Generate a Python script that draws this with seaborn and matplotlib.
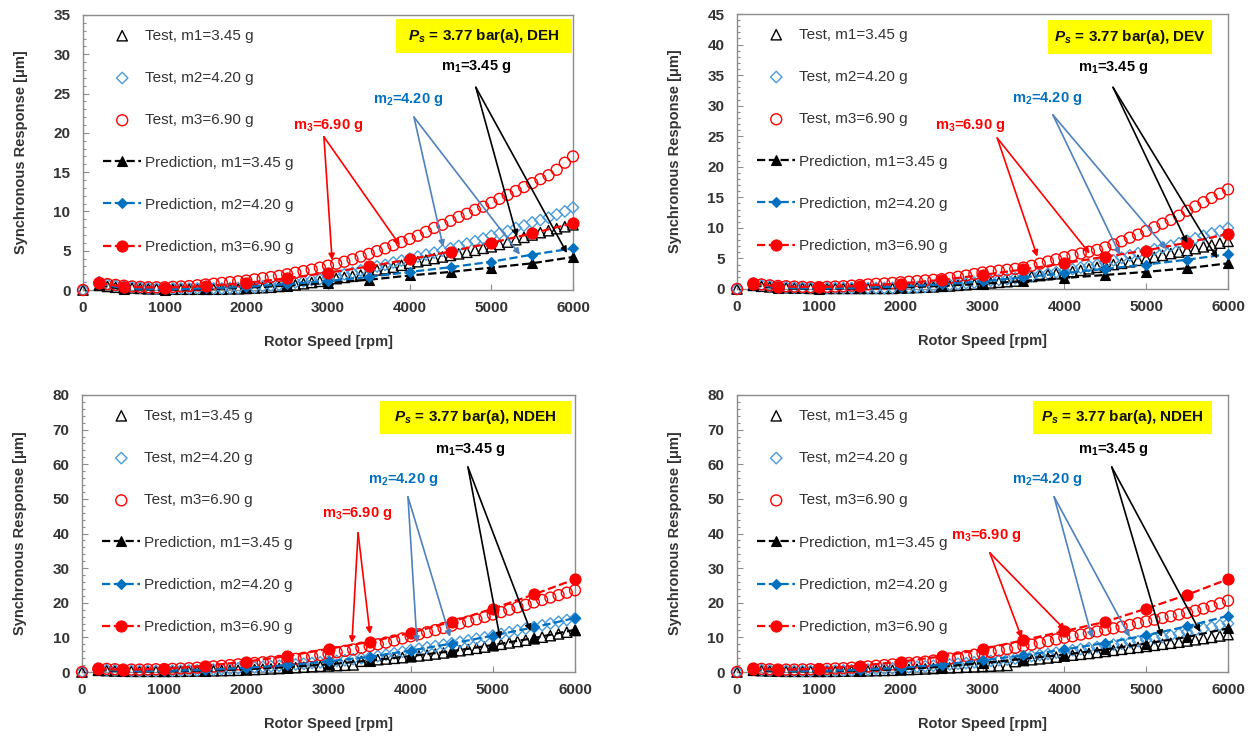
import numpy as np
import pandas as pd
import matplotlib
matplotlib.use("Agg")
import matplotlib.pyplot as plt
import seaborn as sns
from matplotlib.ticker import MultipleLocator, AutoMinorLocator
from matplotlib.patches import Rectangle

sns.set_theme(style="white")
plt.rcParams['font.family'] = ['Liberation Sans', 'DejaVu Sans']
plt.rcParams['mathtext.fontset'] = 'custom'
plt.rcParams['mathtext.rm'] = 'Liberation Sans'
plt.rcParams['mathtext.it'] = 'Liberation Sans:italic'
plt.rcParams['mathtext.bf'] = 'Liberation Sans:bold'
plt.rcParams['mathtext.bfit'] = 'Liberation Sans:italic:bold'

# ---------------- data ----------------
test_speed = [0] + list(range(200, 6001, 100))          # rpm
pred_speed = [200, 500, 1000, 1500, 2000, 2500, 3000, 3500, 4000, 4500, 5000, 5500, 6000]

test_labels = ["Test, m1=3.45 g", "Test, m2=4.20 g", "Test, m3=6.90 g"]
pred_labels = ["Prediction, m1=3.45 g", "Prediction, m2=4.20 g", "Prediction, m3=6.90 g"]
panel_titles = ["DEH", "DEV", "NDEH", "NDEH"]
y_max = [35, 45, 80, 80]
y_step = [5, 5, 10, 10]

# DEH (top left)
deh_m1 = [0.0,
          0.6, 0.45, 0.35, 0.3, 0.25, 0.2, 0.15, 0.15, 0.1,
          0.1, 0.1, 0.1, 0.1, 0.1, 0.1, 0.1, 0.15, 0.15, 0.2,
          0.25, 0.3, 0.35, 0.45, 0.55, 0.65, 0.8, 0.95, 1.1, 1.3,
          1.45, 1.6, 1.75, 1.9, 2.4, 2.55, 2.7, 2.9, 3.15, 3.4,
          3.6, 3.8, 4.0, 4.2, 4.4, 4.6, 4.8, 5.05, 5.3, 5.5,
          5.8, 6.1, 6.4, 6.7, 7.0, 7.3, 7.55, 7.8, 8.05, 8.3]
deh_m2 = [0.0,
          1.0, 0.7, 0.55, 0.45, 0.35, 0.3, 0.25, 0.2, 0.2,
          0.2, 0.2, 0.2, 0.2, 0.2, 0.2, 0.2, 0.25, 0.25, 0.3,
          0.35, 0.45, 0.55, 0.65, 0.8, 0.95, 1.1, 1.25, 1.4, 1.6,
          1.8, 2.0, 2.2, 2.5, 2.8, 3.0, 3.2, 3.5, 3.75, 4.0,
          4.25, 4.5, 4.75, 5.0, 5.3, 5.6, 5.9, 6.2, 6.55, 6.9,
          7.2, 7.5, 7.9, 8.2, 8.6, 8.9, 9.2, 9.6, 10.0, 10.5]
deh_m3 = [0.0,
          0.9, 0.75, 0.65, 0.55, 0.45, 0.4, 0.35, 0.35, 0.35,
          0.4, 0.45, 0.5, 0.6, 0.7, 0.8, 0.9, 1.0, 1.1, 1.2,
          1.35, 1.5, 1.65, 1.8, 2.0, 2.2, 2.4, 2.6, 2.85, 3.1,
          3.35, 3.6, 3.9, 4.25, 4.6, 4.95, 5.3, 5.7, 6.1, 6.5,
          6.9, 7.4, 7.9, 8.3, 8.8, 9.3, 9.7, 10.2, 10.6, 11.1,
          11.6, 12.1, 12.6, 13.1, 13.6, 14.1, 14.6, 15.3, 16.2, 17.0]
deh_p1 = [0.6, 0.1, 0.05, 0.1, 0.3, 0.55, 0.9, 1.3, 1.85, 2.3, 2.85, 3.4, 4.2]
deh_p2 = [0.8, 0.2, 0.1, 0.2, 0.4, 0.75, 1.15, 1.65, 2.3, 2.9, 3.6, 4.5, 5.3]
deh_p3 = [0.9, 0.4, 0.3, 0.5, 0.9, 1.5, 2.2, 3.0, 3.9, 4.9, 6.0, 7.2, 8.5]

# DEV (top right)
dev_m1 = [0.0,
          0.6, 0.45, 0.35, 0.3, 0.2, 0.15, 0.15, 0.1, 0.1,
          0.1, 0.1, 0.1, 0.1, 0.1, 0.1, 0.1, 0.1, 0.1, 0.15,
          0.2, 0.25, 0.3, 0.35, 0.45, 0.5, 0.6, 0.7, 0.8, 0.9,
          1.0, 1.1, 1.2, 1.3, 1.9, 2.05, 2.2, 2.35, 2.5, 2.65,
          2.85, 3.05, 3.3, 3.55, 3.8, 4.0, 4.2, 4.45, 4.7, 4.95,
          5.2, 5.5, 5.8, 6.05, 6.3, 6.6, 6.9, 7.2, 7.5, 7.8]
dev_m2 = [0.0,
          0.9, 0.65, 0.5, 0.4, 0.3, 0.25, 0.2, 0.2, 0.15,
          0.15, 0.15, 0.15, 0.15, 0.15, 0.15, 0.15, 0.15, 0.2, 0.2,
          0.25, 0.3, 0.35, 0.45, 0.6, 0.7, 0.8, 0.95, 1.05, 1.2,
          1.35, 1.5, 1.6, 1.75, 1.9, 2.1, 2.3, 2.5, 2.75, 3.0,
          3.25, 3.5, 3.75, 4.0, 4.3, 4.7, 5.1, 5.5, 5.85, 6.2,
          6.5, 6.8, 7.1, 7.5, 7.9, 8.3, 8.7, 9.1, 9.5, 10.0]
dev_m3 = [0.0,
          0.9, 0.75, 0.6, 0.5, 0.45, 0.4, 0.35, 0.3, 0.3,
          0.35, 0.4, 0.45, 0.55, 0.65, 0.75, 0.85, 0.9, 1.0, 1.1,
          1.2, 1.3, 1.4, 1.5, 1.6, 1.8, 2.0, 2.2, 2.45, 2.7,
          2.85, 3.0, 3.15, 3.3, 3.5, 3.8, 4.15, 4.5, 4.85, 5.2,
          5.5, 5.8, 6.1, 6.4, 6.8, 7.3, 7.8, 8.4, 8.9, 9.5,
          10.1, 10.7, 11.3, 12.0, 12.8, 13.5, 14.2, 14.9, 15.6, 16.3]
dev_p1 = [0.6, 0.1, 0.05, 0.1, 0.25, 0.5, 0.85, 1.3, 1.8, 2.3, 2.8, 3.4, 4.2]
dev_p2 = [0.8, 0.2, 0.1, 0.2, 0.4, 0.75, 1.25, 1.9, 2.6, 3.3, 4.0, 4.8, 5.7]
dev_p3 = [0.9, 0.4, 0.3, 0.5, 0.9, 1.5, 2.3, 3.2, 4.2, 5.3, 6.3, 7.6, 9.0]

# NDEH (bottom left)
ndeh_a_m1 = [0.0,
             0.5, 0.4, 0.3, 0.25, 0.2, 0.2, 0.2, 0.2, 0.2,
             0.2, 0.2, 0.25, 0.3, 0.3, 0.35, 0.4, 0.45, 0.5, 0.6,
             0.7, 0.8, 0.9, 1.0, 1.1, 1.25, 1.4, 1.55, 1.65, 1.75,
             1.85, 1.95, 2.05, 3.1, 3.35, 3.55, 3.75, 3.95, 4.15, 4.4,
             4.65, 4.9, 5.2, 5.5, 5.8, 6.15, 6.5, 6.85, 7.2, 7.6,
             8.0, 8.4, 8.8, 9.2, 9.6, 10.05, 10.5, 11.0, 11.5, 12.0]
ndeh_a_m2 = [0.0,
             0.8, 0.6, 0.5, 0.4, 0.35, 0.3, 0.3, 0.3, 0.3,
             0.35, 0.4, 0.45, 0.5, 0.6, 0.7, 0.8, 0.9, 1.05, 1.2,
             1.35, 1.5, 1.65, 1.8, 2.0, 2.2, 2.4, 2.6, 2.8, 3.0,
             3.2, 3.4, 3.7, 3.95, 4.2, 4.6, 5.0, 5.4, 5.85, 6.3,
             6.7, 7.1, 7.5, 7.9, 8.3, 8.7, 9.1, 9.6, 10.0, 10.5,
             11.0, 11.5, 12.0, 12.5, 13.0, 13.5, 14.0, 14.5, 15.0, 15.5]
ndeh_a_m3 = [0.0,
             1.0, 0.9, 0.8, 0.7, 0.7, 0.7, 0.75, 0.8, 0.85,
             0.9, 1.0, 1.1, 1.25, 1.4, 1.6, 1.8, 2.0, 2.2, 2.4,
             2.6, 2.8, 3.0, 3.2, 3.5, 3.8, 4.1, 4.5, 4.9, 5.3,
             5.7, 6.1, 6.5, 7.0, 7.5, 8.0, 8.5, 9.1, 9.7, 10.3,
             10.9, 11.5, 12.1, 12.7, 13.4, 14.0, 14.6, 15.2, 15.9, 16.6,
             17.3, 18.0, 18.7, 19.4, 20.1, 20.8, 21.5, 22.2, 22.9, 23.6]
ndeh_a_p1 = [0.6, 0.2, 0.2, 0.4, 0.8, 1.4, 2.2, 3.3, 4.6, 6.0, 7.8, 9.8, 12.2]
ndeh_a_p2 = [0.8, 0.3, 0.3, 0.6, 1.2, 2.0, 3.1, 4.4, 6.2, 8.2, 10.5, 12.9, 15.6]
ndeh_a_p3 = [1.0, 0.6, 0.9, 1.8, 3.0, 4.6, 6.7, 8.7, 11.3, 14.5, 18.3, 22.4, 26.8]

# NDEH (bottom right)
ndeh_b_m1 = [0.0,
             0.5, 0.4, 0.3, 0.25, 0.2, 0.2, 0.2, 0.2, 0.2,
             0.2, 0.2, 0.25, 0.3, 0.3, 0.35, 0.4, 0.45, 0.5, 0.6,
             0.7, 0.8, 0.9, 1.0, 1.1, 1.2, 1.3, 1.4, 1.5, 1.6,
             1.7, 1.8, 1.9, 3.0, 3.3, 3.55, 3.8, 4.05, 4.3, 4.6,
             4.85, 5.1, 5.35, 5.65, 5.95, 6.25, 6.55, 6.85, 7.1, 7.4,
             7.7, 8.0, 8.3, 8.6, 8.95, 9.3, 9.65, 10.0, 10.4, 10.8]
ndeh_b_m2 = [0.0,
             0.8, 0.6, 0.5, 0.4, 0.35, 0.3, 0.3, 0.3, 0.3,
             0.35, 0.4, 0.45, 0.5, 0.6, 0.7, 0.8, 0.9, 1.05, 1.2,
             1.35, 1.5, 1.65, 1.8, 2.0, 2.2, 2.4, 2.6, 2.8, 3.0,
             3.2, 3.4, 3.6, 3.9, 4.3, 4.6, 4.9, 5.2, 5.6, 6.0,
             6.3, 6.6, 6.9, 7.2, 7.6, 7.9, 8.2, 8.6, 8.9, 9.3,
             9.7, 10.1, 10.5, 11.0, 11.5, 12.0, 12.5, 13.0, 13.5, 14.0]
ndeh_b_m3 = [0.0,
             1.0, 0.9, 0.8, 0.7, 0.7, 0.7, 0.75, 0.8, 0.85,
             0.9, 1.0, 1.1, 1.25, 1.4, 1.6, 1.8, 2.0, 2.2, 2.4,
             2.6, 2.8, 3.0, 3.3, 3.6, 3.9, 4.2, 4.6, 5.0, 5.4,
             5.8, 6.2, 6.6, 7.0, 7.5, 7.9, 8.4, 8.9, 9.4, 9.9,
             10.3, 10.8, 11.2, 11.7, 12.2, 12.6, 13.1, 13.6, 14.1, 14.6,
             15.1, 15.6, 16.1, 16.6, 17.1, 17.7, 18.3, 19.0, 19.8, 20.6]
ndeh_b_p1 = [0.6, 0.2, 0.2, 0.4, 0.8, 1.5, 2.6, 3.8, 5.0, 6.5, 8.2, 10.1, 12.6]
ndeh_b_p2 = [0.8, 0.3, 0.3, 0.6, 1.2, 2.1, 3.4, 4.8, 6.5, 8.4, 10.6, 13.2, 16.2]
ndeh_b_p3 = [1.0, 0.6, 0.9, 1.8, 3.0, 4.5, 6.6, 9.2, 11.8, 14.5, 18.3, 22.3, 26.8]

panel_tests = [[deh_m1, deh_m2, deh_m3], [dev_m1, dev_m2, dev_m3],
               [ndeh_a_m1, ndeh_a_m2, ndeh_a_m3], [ndeh_b_m1, ndeh_b_m2, ndeh_b_m3]]
panel_preds = [[deh_p1, deh_p2, deh_p3], [dev_p1, dev_p2, dev_p3],
               [ndeh_a_p1, ndeh_a_p2, ndeh_a_p3], [ndeh_b_p1, ndeh_b_p2, ndeh_b_p3]]

annot_labels = [r"m$_\mathbf{1}$=3.45 g", r"m$_\mathbf{2}$=4.20 g", r"m$_\mathbf{3}$=6.90 g"]

# annotation placement (text, arrow origin, two arrow tips) per panel, in data units
annot_pos = [
    [((4810, 28.4), (4810, 25.8), [(5314, 6.8), (5926, 4.7)]),
     ((3980, 24.3), (4053, 22.0), [(4410, 5.5), (5350, 4.5)]),
     ((3000, 20.9), (2950, 19.5), [(3050, 3.8), (3880, 5.7)])],
    [((4595, 36.3), (4595, 33.0), [(5500, 7.5), (5870, 5.0)]),
     ((3790, 31.1), (3860, 28.5), [(4680, 5.6), (5250, 6.5)]),
     ((2850, 26.7), (3180, 24.7), [(3670, 5.3), (4310, 5.8)])],
    [((4722, 64.4), (4697, 59.2), [(5090, 9.5), (5460, 11.8)]),
     ((3907, 55.5), (3967, 50.6), [(4077, 8.4), (4480, 10.1)]),
     ((3345, 45.7), (3360, 40.2), [(3285, 8.4), (3505, 11.0)])],
    [((4595, 64.4), (4580, 59.2), [(5190, 10.1), (5660, 11.6)]),
     ((3790, 55.5), (3875, 50.6), [(4340, 9.8), (4800, 10.1)]),
     ((3045, 39.3), (3090, 34.4), [(3480, 9.8), (4010, 12.1)])],
]

# ---------------- styling ----------------
test_colors = ["#000000", "#4A9BDB", "#FF0000"]
test_markers = ["^", "D", "o"]
test_sizes = [55, 34, 62]
pred_colors = ["#000000", "#0070C0", "#FF0000"]
pred_markers = ["^", "D", "o"]
pred_msize = [7.5, 5.5, 8.0]
text_colors = ["#000000", "#0070C0", "#FF0000"]
arrow_colors = ["#000000", "#4F81BD", "#FF0000"]

W, H = 1255, 736
axes_px = [(83, 15, 573, 290), (737, 14, 1228, 289), (82, 395, 575, 672), (737, 395, 1228, 672)]
box_px = [(396, 19, 572, 53), (1048, 20, 1212, 54), (380, 401, 571, 434), (1033, 401, 1212, 434)]

fig = plt.figure(figsize=(W / 100, H / 100), dpi=100)
spine_c = "#8C8C8C"
txt_c = "#333333"

for i in range(4):
    l, t, r, b = axes_px[i]
    ax = fig.add_axes([l / W, 1 - b / H, (r - l) / W, (b - t) / H])
    for k in range(3):
        sns.scatterplot(x=test_speed, y=panel_tests[i][k], ax=ax, marker=test_markers[k],
                        s=test_sizes[k], facecolor="none", edgecolor=test_colors[k],
                        linewidth=1.0, label=test_labels[k], clip_on=False, zorder=3 + k * 0.1)
    for k in range(3):
        sns.lineplot(x=pred_speed, y=panel_preds[i][k], ax=ax, color=pred_colors[k],
                     marker=pred_markers[k], markersize=pred_msize[k],
                     markeredgecolor=pred_colors[k], markerfacecolor=pred_colors[k],
                     markeredgewidth=0.8, linestyle="--", linewidth=1.6,
                     label=pred_labels[k], zorder=4 + k * 0.1, clip_on=False)

    ax.set_xlim(0, 6000)
    ax.set_ylim(0, y_max[i])
    ax.xaxis.set_major_locator(MultipleLocator(1000))
    ax.yaxis.set_major_locator(MultipleLocator(y_step[i]))
    ax.yaxis.set_minor_locator(AutoMinorLocator(5))
    ax.tick_params(axis="both", which="both", direction="in", color=spine_c, width=0.8)
    ax.tick_params(axis="both", which="major", length=4, labelsize=11, labelcolor=txt_c)
    ax.tick_params(axis="y", which="minor", length=2.5, left=True)
    ax.tick_params(axis="y", which="major", pad=9, left=True)
    ax.tick_params(axis="x", which="major", pad=8, bottom=True)
    for lab in ax.get_xticklabels() + ax.get_yticklabels():
        lab.set_fontweight("bold")
    for sp in ax.spines.values():
        sp.set_color(spine_c)
        sp.set_linewidth(1.0)
    ax.set_xlabel("Rotor Speed [rpm]", fontsize=10.5, fontweight="bold", color=txt_c, labelpad=14)
    ax.set_ylabel("Synchronous Response [μm]", fontsize=10.5, fontweight="bold", color=txt_c, labelpad=18)

    ax.legend(loc="upper left", bbox_to_anchor=(0.041, 0.950), frameon=False, fontsize=11,
              handlelength=2.5, handletextpad=0.25, labelspacing=1.85, borderpad=0,
              borderaxespad=0, labelcolor=txt_c)

    # yellow label box
    bl, bt, br, bb = box_px[i]
    x0 = (bl - l) / (r - l)
    x1 = (br - l) / (r - l)
    y1 = 1 - (bt - t) / (b - t)
    y0 = 1 - (bb - t) / (b - t)
    ax.add_patch(Rectangle((x0, y0), x1 - x0, y1 - y0, transform=ax.transAxes,
                           facecolor="#FFFF00", edgecolor="none", zorder=6))
    ax.text((x0 + x1) / 2, (y0 + y1) / 2,
            r"$\mathbfit{P}_\mathbfit{s}$ = 3.77 bar(a), " + panel_titles[i],
            transform=ax.transAxes, ha="center", va="center", fontsize=11,
            fontweight="bold", color="#111111", zorder=7)

    # annotations
    for k in range(3):
        tpos, origin, tips = annot_pos[i][k]
        ax.text(tpos[0], tpos[1], annot_labels[k], ha="center", va="center", fontsize=10.5,
                fontweight="bold", color=text_colors[k], zorder=8)
        for tip in tips:
            ax.annotate("", xy=tip, xytext=origin,
                        arrowprops=dict(arrowstyle="-|>", color=arrow_colors[k], lw=1.2,
                                        mutation_scale=9, shrinkA=0, shrinkB=0), zorder=8)

fig.savefig("out.png", dpi=100)
